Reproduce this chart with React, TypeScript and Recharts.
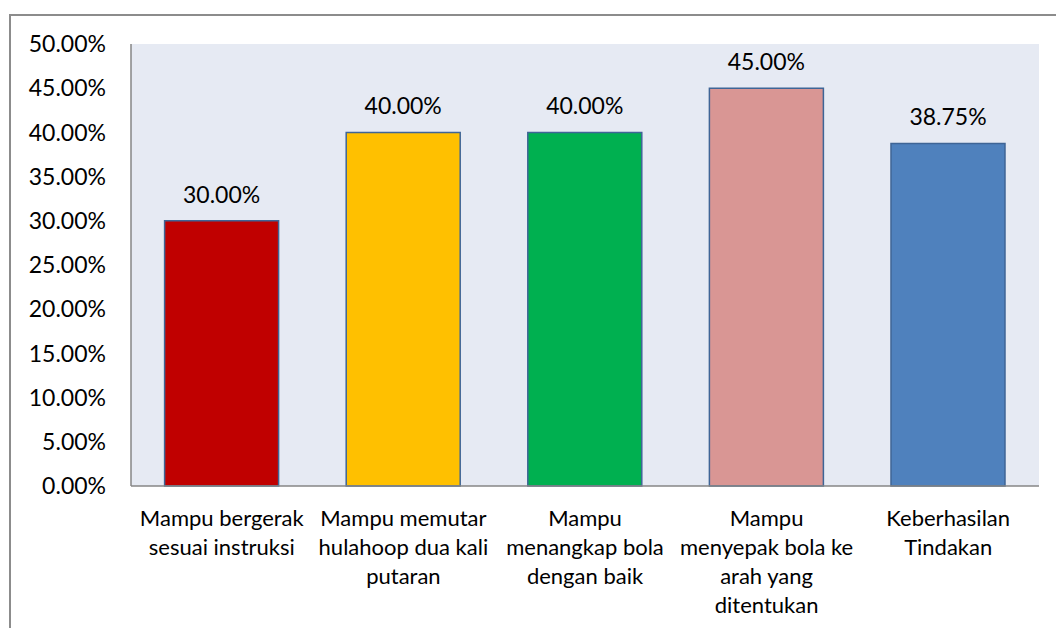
import { BarChart, Bar, XAxis, YAxis, CartesianGrid, Cell, LabelList } from "recharts";

const categories = [
  "Mampu bergerak\nsesuai instruksi",
  "Mampu memutar\nhulahoop dua kali\nputaran",
  "Mampu\nmenangkap bola\ndengan baik",
  "Mampu\nmenyepak bola ke\narah yang\nditentukan",
  "Keberhasilan\nTindakan",
];
const values = [30, 40, 40, 45, 38.75];
const barColors = ["#c00000", "#ffc000", "#00b050", "#d99694", "#4f81bd"];
const yTicks = [0, 5, 10, 15, 20, 25, 30, 35, 40, 45, 50];

const data = categories.map((name, i) => ({ name, value: values[i] }));

const FONT = "Lato, 'Open Sans', sans-serif";
const FS = 22;
const NUM_FS = 23;

const CategoryTick = ({ x, y, payload }: any) => {
  const lines = String(payload.value).split("\n");
  return (
    <text x={x} y={y + 38} textAnchor="middle" fill="#000" fontSize={FS} fontFamily={FONT}>
      {lines.map((l, i) => (
        <tspan key={i} x={x} dy={i === 0 ? 0 : 29}>
          {l}
        </tspan>
      ))}
    </text>
  );
};

export default function App() {
  return (
    <div style={{ position: "fixed", left: 0, top: 0, width: 1056, height: 628, overflow: "hidden", background: "#fff" }}>
      <div
        style={{
          position: "absolute",
          left: 9,
          top: 14,
          width: 1100,
          height: 700,
          border: "2px solid #8c8c8c",
        }}
      />
      <div style={{ position: "absolute", left: 0, top: 0 }}>
        <BarChart
          width={1056}
          height={628}
          data={data}
          margin={{ top: 44, right: 17, left: 31, bottom: 22 }}
          barCategoryGap="18.5%"
        >
          <CartesianGrid fill="#e6eaf3" horizontal={false} vertical={false} stroke="none" />
          <XAxis
            dataKey="name"
            height={120}
            axisLine={{ stroke: "#868686", strokeWidth: 1.5 }}
            tickLine={false}
            tickSize={0}
            interval={0}
            tick={<CategoryTick />}
          />
          <YAxis
            width={100}
            domain={[0, 50]}
            ticks={yTicks}
            interval={0}
            axisLine={{ stroke: "#868686", strokeWidth: 1.5 }}
            tickLine={false}
            tickSize={0}
            tickMargin={25}
            tickFormatter={(v: number) => `${v.toFixed(2)}%`}
            tick={{ fill: "#000", fontSize: NUM_FS, fontFamily: FONT }}
          />
          <Bar dataKey="value" isAnimationActive={false} stroke="#3f6596" strokeWidth={1.5}>
            {data.map((_, i) => (
              <Cell key={i} fill={barColors[i]} />
            ))}
            <LabelList
              dataKey="value"
              position="top"
              offset={18}
              formatter={(v: unknown) => `${Number(v).toFixed(2)}%`}
              style={{ fill: "#000", fontSize: NUM_FS, fontFamily: FONT }}
            />
          </Bar>
        </BarChart>
      </div>
    </div>
  );
}
